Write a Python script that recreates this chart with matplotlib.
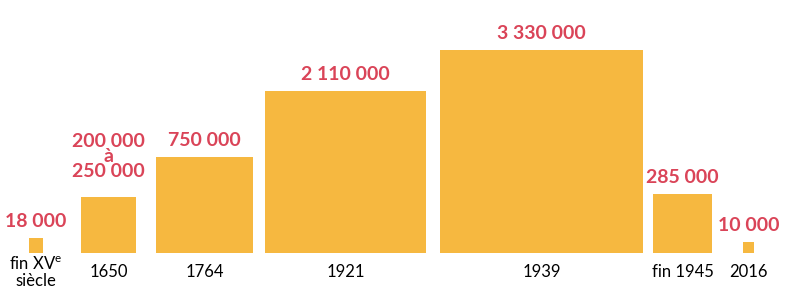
import numpy as np
import matplotlib.pyplot as plt

# Population (square area ~ value)
periods = ["fin XV$^{\\mathrm{e}}$\nsiècle", "1650", "1764", "1921", "1939", "fin 1945", "2016"]
values = [18000, 250000, 750000, 2110000, 3330000, 285000, 10000]
value_labels = ["18 000", "200 000\nà\n250 000", "750 000", "2 110 000",
                "3 330 000", "285 000", "10 000"]

# layout (pixels)
centers = [36, 108.5, 204.5, 345.5, 541.5, 682.5, 748.5]
base = 41
scale = 0.1113          # pixels per sqrt(unit)

bar_color = "#F6B840"
red = "#DA4458"

plt.rcParams['font.family'] = ['Lato', 'DejaVu Sans']
plt.rcParams['mathtext.fontset'] = 'custom'
plt.rcParams['mathtext.rm'] = 'Lato'

fig = plt.figure(figsize=(8, 2.94), dpi=100)
ax = fig.add_axes([0, 0, 1, 1])
ax.set_xlim(0, 800)
ax.set_ylim(0, 294)
ax.axis('off')

sides = scale * np.sqrt(np.array(values, dtype=float))
ax.bar(centers, sides, width=sides, bottom=base, color=bar_color, linewidth=0)

for c, s, txt, per in zip(centers, sides, value_labels, periods):
    pad = 17 if '\n' in txt else 8
    ax.text(c, base + s + pad, txt, ha='center', va='bottom', color=red,
            fontsize=14, fontweight='bold', linespacing=0.86)
    ax.text(c, 22, per, ha='center', va='center', color='black',
            fontsize=12, linespacing=1.0)

fig.savefig("out.png", dpi=100, facecolor='white')
